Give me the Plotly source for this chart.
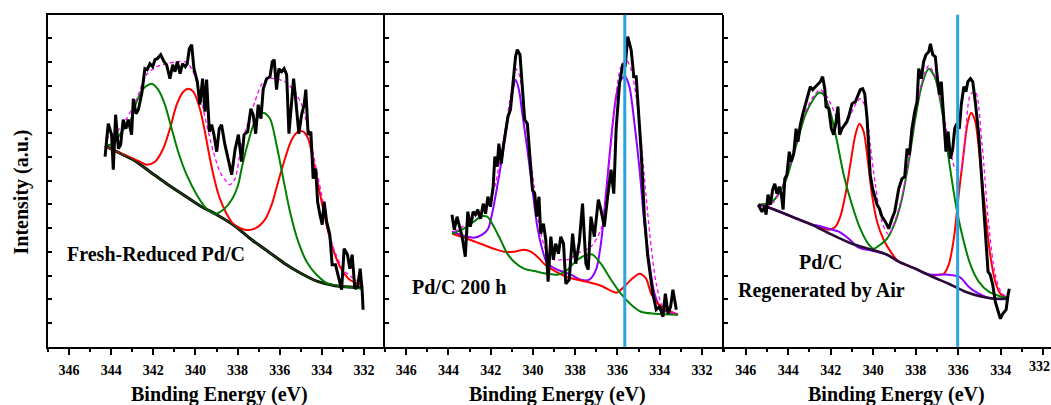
import plotly.graph_objects as go

# ---------------- Panel 1: Fresh-Reduced Pd/C ----------------
P1_RAW_E = [344.29, 344.14, 343.98, 343.90, 343.79, 343.66, 343.55, 343.43, 343.30, 343.19, 343.03, 342.95, 342.82, 342.71,
            342.55, 342.40, 342.29, 342.16, 342.03, 341.92, 341.81, 341.65, 341.49, 341.37, 341.21, 341.08, 340.97, 340.86,
            340.73, 340.61, 340.48, 340.39, 340.29, 340.18, 340.07, 339.91, 339.79, 339.66, 339.55, 339.47, 339.34, 339.23,
            339.12, 338.99, 338.87, 338.76, 338.60, 338.44, 338.28, 338.12, 337.96, 337.81, 337.69, 337.52, 337.37, 337.26,
            337.14, 337.02, 336.89, 336.78, 336.62, 336.46, 336.35, 336.26, 336.15, 336.04, 335.91, 335.79, 335.67, 335.56,
            335.43, 335.34, 335.23, 335.09, 334.96, 334.84, 334.76, 334.65, 334.52, 334.41, 334.29, 334.20, 334.09, 333.98,
            333.89, 333.77, 333.62, 333.51, 333.35, 333.22, 333.06, 332.94, 332.78, 332.67, 332.56, 332.43, 332.30, 332.18,
            332.08, 332.04]
P1_RAW_I = [190, 223, 212, 177, 232, 198, 202, 227, 218, 227, 212, 248, 233, 237,
            253, 278, 277, 283, 280, 287, 288, 292, 285, 282, 268, 282, 275, 285,
            273, 283, 280, 283, 298, 302, 278, 265, 242, 268, 235, 267, 215, 222,
            212, 195, 218, 222, 202, 188, 172, 197, 212, 185, 212, 215, 238, 232,
            213, 242, 228, 258, 268, 270, 285, 287, 257, 278, 275, 278, 272, 213,
            245, 268, 245, 213, 232, 242, 257, 212, 215, 168, 178, 145, 132, 122,
            145, 125, 112, 82, 82, 72, 57, 98, 92, 78, 92, 58, 60, 78,
            55, 37]
P1_BG_E = [344.29, 343.74, 342.95, 342.16, 341.37, 340.58, 339.79, 338.99, 338.21, 337.33, 336.54, 335.75, 334.96, 334.17,
           333.38, 332.04]
P1_BG_I = [201, 195, 187, 175, 163, 152, 141, 132, 122, 107, 95, 83, 73, 65, 61, 59]
P1_RED_E = [344.29, 343.74, 342.95, 342.63, 342.32, 341.92, 341.53, 341.21, 340.89, 340.58, 340.34, 340.10, 339.79, 339.55,
            339.31, 339.07, 338.84, 338.52, 338.21, 337.65, 337.18, 336.70, 336.38, 336.07, 335.75, 335.43, 335.12, 334.88,
            334.65, 334.33, 334.01, 333.70, 333.38, 333.06, 332.67, 332.04]
P1_RED_I = [201, 195, 188, 185, 182, 185, 198, 218, 242, 255, 258, 255, 238, 215,
            188, 165, 148, 133, 123, 117, 118, 127, 142, 165, 188, 207, 215, 215,
            208, 178, 145, 115, 92, 77, 67, 61]
P1_GRN_E = [344.29, 343.90, 343.43, 343.11, 342.79, 342.48, 342.08, 341.77, 341.45, 341.13, 340.82, 340.42, 339.94, 339.47,
            339.07, 338.68, 338.28, 337.97, 337.81, 337.49, 337.18, 336.78, 336.46, 336.15, 335.83, 335.51, 335.12, 334.72,
            334.25, 333.70, 332.90, 332.04]
P1_GRN_I = [201, 203, 217, 225, 245, 258, 263, 257, 242, 218, 195, 172, 152, 138,
            133, 137, 147, 162, 178, 205, 225, 234, 228, 202, 168, 135, 105, 85,
            72, 63, 60, 58]
P1_ENV_E = [344.29, 343.74, 343.27, 342.79, 342.32, 341.84, 341.37, 340.89, 340.50, 340.18, 339.79, 339.47, 339.15, 338.84,
            338.52, 338.36, 338.12, 337.81, 337.49, 337.18, 336.86, 336.54, 336.23, 335.75, 335.28, 334.96, 334.65, 334.33,
            334.01, 333.70, 333.38, 332.90, 332.04]
P1_ENV_I = [208, 215, 228, 248, 272, 280, 283, 285, 285, 278, 253, 222, 195, 175,
            165, 162, 168, 202, 225, 245, 262, 268, 268, 265, 255, 242, 218, 185,
            152, 118, 95, 75, 63]

# ---------------- Panel 2: Pd/C 200 h ----------------
P2_RAW_E = [343.83, 343.72, 343.59, 343.47, 343.35, 343.20, 343.08, 342.96, 342.83, 342.72, 342.61, 342.48, 342.35, 342.24,
            342.13, 342.01, 341.88, 341.80, 341.69, 341.61, 341.50, 341.40, 341.29, 341.18, 341.06, 340.93, 340.82, 340.74,
            340.61, 340.50, 340.39, 340.26, 340.13, 340.02, 339.91, 339.82, 339.71, 339.63, 339.50, 339.39, 339.28, 339.15,
            339.03, 338.92, 338.79, 338.68, 338.55, 338.44, 338.28, 338.12, 337.97, 337.80, 337.65, 337.49, 337.38, 337.25,
            337.09, 336.90, 336.78, 336.62, 336.46, 336.30, 336.17, 336.06, 335.90, 335.74, 335.63, 335.51, 335.35, 335.22,
            335.11, 335.00, 334.88, 334.72, 334.56, 334.32, 334.16, 334.00, 333.84, 333.73, 333.60, 333.48, 333.37, 333.21]
P2_RAW_I = [132, 117, 130, 120, 110, 90, 135, 120, 135, 132, 137, 128, 143, 133,
            150, 140, 160, 190, 180, 203, 183, 200, 213, 230, 237, 267, 290, 297,
            292, 260, 227, 223, 190, 157, 153, 130, 150, 113, 123, 107, 65, 110,
            87, 103, 93, 110, 103, 63, 67, 113, 83, 105, 143, 83, 77, 130,
            110, 147, 137, 120, 150, 177, 153, 217, 263, 283, 280, 310, 297, 270,
            270, 233, 197, 130, 90, 53, 37, 40, 30, 53, 33, 40, 57, 37]
P2_RED_E = [343.81, 343.11, 342.48, 341.85, 341.37, 340.89, 340.42, 340.10, 339.79, 339.47, 339.15, 338.42, 337.47, 336.78,
            336.04, 335.83, 335.35, 334.95, 334.64, 334.40, 334.08, 333.76, 333.13]
P2_RED_I = [113, 108, 103, 98, 95, 95, 97, 95, 90, 83, 78, 70, 65, 61,
            54, 57, 67, 73, 68, 53, 43, 38, 32]
P2_PUR_E = [343.83, 343.27, 342.80, 342.40, 342.12, 341.93, 341.69, 341.45, 341.22, 340.98, 340.82, 340.66, 340.50, 340.26,
            340.02, 339.79, 339.55, 339.31, 338.84, 338.20, 337.73, 337.33, 337.01, 336.78, 336.54, 336.30, 336.06, 335.83,
            335.63, 335.43, 335.19, 334.95, 334.72, 334.48, 334.24, 333.92, 333.13]
P2_PUR_I = [115, 111, 109, 112, 118, 133, 160, 190, 223, 253, 267, 257, 233, 197,
            157, 120, 97, 83, 77, 72, 67, 67, 77, 103, 153, 207, 250, 267,
            270, 260, 223, 177, 123, 83, 53, 38, 32]
P2_GRN_E = [343.83, 343.27, 342.80, 342.48, 342.16, 341.85, 341.53, 341.21, 340.89, 340.42, 339.79, 339.31, 338.84, 338.36,
            337.89, 337.41, 337.17, 336.78, 336.30, 335.83, 335.35, 334.88, 334.24, 333.13]
P2_GRN_I = [113, 118, 125, 130, 130, 120, 107, 93, 85, 78, 75, 73, 72, 77,
            87, 92, 92, 83, 67, 53, 42, 35, 33, 32]
P2_ENV_E = [343.75, 343.11, 342.48, 342.08, 341.77, 341.53, 341.29, 341.06, 340.82, 340.66, 340.42, 340.18, 339.94, 339.71,
            339.39, 338.99, 338.60, 338.36, 337.73, 337.25, 336.78, 336.54, 336.30, 336.06, 335.83, 335.59, 335.35, 335.11,
            334.88, 334.64, 334.40, 334.16, 333.84, 333.13]
P2_ENV_I = [115, 123, 135, 143, 163, 190, 220, 250, 278, 273, 240, 200, 160, 123,
            97, 87, 87, 87, 95, 100, 117, 150, 203, 253, 280, 287, 277, 250,
            207, 150, 100, 63, 40, 32]
P2_MARK_E = 335.65

# ---------------- Panel 3: Pd/C regenerated by air ----------------
P3_RAW_E = [345.41, 345.23, 345.10, 345.04, 344.95, 344.84, 344.73, 344.63, 344.53, 344.42, 344.32, 344.24, 344.16, 344.06,
            343.95, 343.85, 343.74, 343.63, 343.54, 343.43, 343.32, 343.19, 343.07, 342.96, 342.85, 342.72, 342.60, 342.49,
            342.38, 342.28, 342.22, 342.09, 341.97, 341.86, 341.75, 341.66, 341.58, 341.47, 341.34, 341.24, 341.13, 341.00,
            340.84, 340.72, 340.61, 340.50, 340.40, 340.29, 340.21, 340.14, 340.03, 339.82, 339.71, 339.59, 339.43, 339.27,
            339.12, 338.99, 338.80, 338.65, 338.52, 338.41, 338.30, 338.18, 338.05, 337.94, 337.86, 337.74, 337.63, 337.52,
            337.39, 337.31, 337.20, 337.08, 337.00, 336.89, 336.80, 336.68, 336.58, 336.48, 336.37, 336.26, 336.17, 336.07,
            335.95, 335.86, 335.74, 335.64, 335.55, 335.43, 335.32, 335.20, 335.04, 334.88, 334.73, 334.60, 334.50, 334.38,
            334.26, 334.14, 334.02, 333.91, 333.75, 333.66, 333.60]
P3_RAW_I = [142, 135, 140, 132, 152, 142, 157, 163, 153, 160, 152, 137, 168, 172,
            195, 185, 193, 218, 205, 222, 232, 242, 252, 260, 257, 260, 263, 265,
            270, 258, 240, 238, 218, 212, 225, 240, 212, 218, 222, 225, 232, 243,
            245, 252, 257, 258, 253, 228, 198, 172, 158, 142, 138, 130, 125, 118,
            128, 135, 158, 168, 170, 198, 192, 218, 235, 245, 278, 268, 285, 292,
            295, 303, 292, 290, 272, 252, 265, 225, 195, 215, 188, 198, 218, 223,
            218, 242, 260, 255, 265, 268, 265, 245, 212, 162, 112, 75, 72, 62,
            45, 35, 28, 33, 37, 52, 58]
P3_BG_E = [345.39, 344.76, 343.82, 342.88, 341.94, 341.00, 340.06, 339.35, 338.80, 338.02, 337.23, 336.45, 335.67, 334.88,
           334.26, 333.63]
P3_BG_I = [142, 138, 130, 122, 112, 103, 97, 92, 85, 78, 70, 63, 55, 50, 48, 48]
P3_PUR_E = [345.39, 344.76, 343.82, 342.88, 342.58, 342.09, 341.62, 341.15, 340.68, 340.06, 339.35, 338.80, 338.02, 337.55,
            337.23, 336.92, 336.47, 335.98, 335.84, 335.51, 335.04, 334.42, 333.63]
P3_PUR_I = [142, 138, 130, 122, 121, 118, 115, 108, 99, 96, 92, 85, 78, 73,
            72, 72, 72, 70, 68, 60, 53, 48, 48]
P3_RED_E = [345.39, 344.76, 343.82, 342.88, 342.09, 341.78, 341.55, 341.31, 341.08, 340.84, 340.65, 340.45, 340.25, 340.06,
            339.82, 339.51, 339.12, 338.80, 338.02, 337.23, 336.92, 336.68, 336.45, 336.21, 335.98, 335.74, 335.55, 335.39,
            335.20, 334.97, 334.73, 334.50, 334.26, 334.02, 333.63]
P3_RED_I = [142, 138, 130, 122, 117, 120, 130, 152, 182, 212, 223, 215, 185, 152,
            125, 107, 93, 85, 78, 71, 72, 73, 82, 108, 152, 195, 225, 234,
            225, 185, 135, 92, 65, 53, 48]
P3_GRN_E = [345.39, 344.76, 344.14, 343.67, 343.19, 342.80, 342.56, 342.33, 342.02, 341.70, 341.39, 341.00, 340.61, 340.21,
            339.98, 339.67, 339.35, 338.96, 338.65, 338.33, 338.02, 337.71, 337.39, 337.08, 336.76, 336.45, 336.14, 335.82,
            335.43, 335.04, 334.57, 333.94, 333.63]
P3_GRN_I = [142, 145, 165, 198, 232, 248, 254, 252, 235, 205, 172, 142, 118, 102,
            98, 102, 108, 125, 148, 185, 228, 262, 278, 268, 235, 188, 145, 112,
            82, 65, 55, 50, 49]
P3_ENV_E = [345.39, 344.76, 344.14, 343.67, 343.19, 342.72, 342.49, 342.17, 341.78, 341.47, 341.15, 340.84, 340.61, 340.37,
            340.14, 339.90, 339.59, 339.27, 338.96, 338.65, 338.33, 338.02, 337.71, 337.39, 337.08, 336.76, 336.45, 336.14,
            335.90, 335.67, 335.43, 335.20, 334.88, 334.57, 334.26, 333.94, 333.63]
P3_ENV_I = [140, 143, 168, 202, 235, 253, 257, 250, 232, 218, 228, 242, 248, 240,
            202, 162, 125, 112, 127, 150, 187, 232, 265, 281, 270, 240, 205, 178,
            175, 212, 252, 255, 202, 122, 72, 53, 50]
P3_MARK_E = 336.03

TICK_VALS = [346, 344, 342, 340, 338, 336, 334, 332]
PANEL_LABELS = ["Fresh-Reduced Pd/C", "Pd/C 200 h", "Pd/C", "Regenerated by Air"]
X_TITLE = "Binding Energy (eV)"
Y_TITLE = "Intensity (a.u.)"

RED = "#ff0000"
GREEN = "#008000"
PURPLE = "#8f00ff"
MAGENTA = "#ff00ff"
BLUE = "#2ba3dc"
DARKBG = "#2a0a3a"
FONT = "Liberation Serif"

fig = go.Figure()


def smooth(x, y, color, width, xa, ya, dash=None):
    fig.add_trace(go.Scatter(x=x, y=y, mode="lines", xaxis=xa, yaxis=ya, showlegend=False, hoverinfo="skip",
                             line=dict(color=color, width=width, shape="spline", smoothing=0.8, dash=dash)))


def raw(x, y, xa, ya):
    fig.add_trace(go.Scatter(x=x, y=y, mode="lines", xaxis=xa, yaxis=ya, showlegend=False, hoverinfo="skip",
                             line=dict(color="black", width=3)))


# panel 1
smooth(P1_BG_E, P1_BG_I, "black", 3.0, "x", "y")
smooth(P1_RED_E, P1_RED_I, RED, 2, "x", "y")
smooth(P1_GRN_E, P1_GRN_I, GREEN, 2, "x", "y")
smooth(P1_BG_E, P1_BG_I, "#1f4a10", 1.2, "x", "y")
smooth(P1_ENV_E, P1_ENV_I, MAGENTA, 1.3, "x", "y", dash="4px,3px")
raw(P1_RAW_E, P1_RAW_I, "x", "y")

# panel 2
smooth(P2_PUR_E, P2_PUR_I, PURPLE, 2, "x2", "y2")
smooth(P2_RED_E, P2_RED_I, RED, 2, "x2", "y2")
smooth(P2_GRN_E, P2_GRN_I, GREEN, 2, "x2", "y2")
smooth(P2_ENV_E, P2_ENV_I, MAGENTA, 1.3, "x2", "y2", dash="4px,3px")
raw(P2_RAW_E, P2_RAW_I, "x2", "y2")

# panel 3
smooth(P3_RED_E, P3_RED_I, RED, 2, "x3", "y3")
smooth(P3_GRN_E, P3_GRN_I, GREEN, 2, "x3", "y3")
smooth(P3_PUR_E, P3_PUR_I, PURPLE, 2, "x3", "y3")
smooth(P3_BG_E, P3_BG_I, DARKBG, 2.6, "x3", "y3")
smooth(P3_ENV_E, P3_ENV_I, MAGENTA, 1.3, "x3", "y3", dash="4px,3px")
raw(P3_RAW_E, P3_RAW_I, "x3", "y3")

W, H = 1051, 405
Y_DOM = [1 - 346.7 / H, 1 - 14.7 / H]
X_DOMS = [[48 / W, 385 / W], [385 / W, 723 / W], [724.4 / W, 1.0]]
X_RANGES = [[347, 331], [347, 331], [347, 331.64]]
Y_RANGE = [0, 332]

tickfont = dict(family=FONT, size=14, color="black", weight="bold")

layout = dict(width=W, height=H, margin=dict(l=0, r=0, t=0, b=0), autosize=False,
              paper_bgcolor="white", plot_bgcolor="white", showlegend=False)

for i in range(3):
    sfx = "" if i == 0 else str(i + 1)
    layout["xaxis" + sfx] = dict(
        domain=X_DOMS[i], range=X_RANGES[i], anchor="y" + sfx, showgrid=False, zeroline=False,
        showline=True, linecolor="black", linewidth=2, mirror=(i < 2),
        ticks="outside", ticklen=6, tickwidth=2, tickcolor="black",
        tickmode="array", tickvals=TICK_VALS, ticktext=[str(v) for v in TICK_VALS] if i < 2 else
        [str(v) for v in TICK_VALS[:-1]] + [""],
        tickfont=tickfont, ticklabelstandoff=3, ticklabeloverflow="allow",
        minor=dict(dtick=1, tick0=0, ticks="outside", ticklen=3.5, tickwidth=1.5, tickcolor="black", showgrid=False),
    )
    layout["yaxis" + sfx] = dict(
        domain=Y_DOM, range=Y_RANGE, anchor="x" + sfx, showgrid=False, zeroline=False,
        showline=True, linecolor="black", linewidth=2, mirror=False,
        ticks="inside", ticklen=3.5, tickwidth=1.5, tickcolor="black",
        tick0=0, dtick=332 / 14, showticklabels=False,
    )
    # top frame with inward ticks
    layout["xaxis" + str(i + 4)] = dict(
        overlaying="x" + sfx, anchor="y" + sfx, side="top", range=X_RANGES[i], showgrid=False, zeroline=False,
        showline=True, linecolor="black", linewidth=2,
        ticks="inside", ticklen=3, tickwidth=1.2, tickcolor="black", tick0=0, dtick=1, showticklabels=False,
    )

shapes = []
for xa, e in (("x2", P2_MARK_E), ("x3", P3_MARK_E)):
    ya = "y2" if xa == "x2" else "y3"
    shapes.append(dict(type="line", xref=xa, yref=ya + " domain", x0=e, x1=e, y0=0, y1=1,
                       line=dict(color=BLUE, width=3), layer="above"))
layout["shapes"] = shapes

tfont = dict(family=FONT, size=20, color="black", weight="bold")
ann = []
for cx in (219, 557, 896):
    ann.append(dict(text=X_TITLE, xref="paper", yref="paper", x=cx / W, y=1 - 394 / H, xanchor="center",
                    yanchor="middle", showarrow=False, font=tfont))
ann.append(dict(text=Y_TITLE, xref="paper", yref="paper", x=21 / W, y=1 - 192.5 / H, xanchor="center",
                yanchor="middle", textangle=-90, showarrow=False, font=tfont))
ann.append(dict(text=PANEL_LABELS[0], xref="x", yref="y", x=341.86, y=93, xanchor="center", yanchor="middle",
                showarrow=False, font=tfont))
ann.append(dict(text=PANEL_LABELS[1], xref="x2", yref="y2", x=343.48, y=60, xanchor="center", yanchor="middle",
                showarrow=False, font=tfont))
ann.append(dict(text=PANEL_LABELS[2], xref="x3", yref="y3", x=342.50, y=85, xanchor="center", yanchor="middle",
                showarrow=False, font=tfont))
ann.append(dict(text=PANEL_LABELS[3], xref="x3", yref="y3", x=342.44, y=56, xanchor="center", yanchor="middle",
                showarrow=False, font=tfont))
# last tick label of the cut-off third panel (placed on the panel's own x scale, nudged to stay inside the page)
ann.append(dict(text=str(TICK_VALS[-1]), xref="x3", yref="paper", x=TICK_VALS[-1], y=1 - 366.5 / H,
                xanchor="center", yanchor="middle", xshift=-4, showarrow=False, font=tickfont))
layout["annotations"] = ann

fig.update_layout(**layout)
fig.write_html("out.html")
